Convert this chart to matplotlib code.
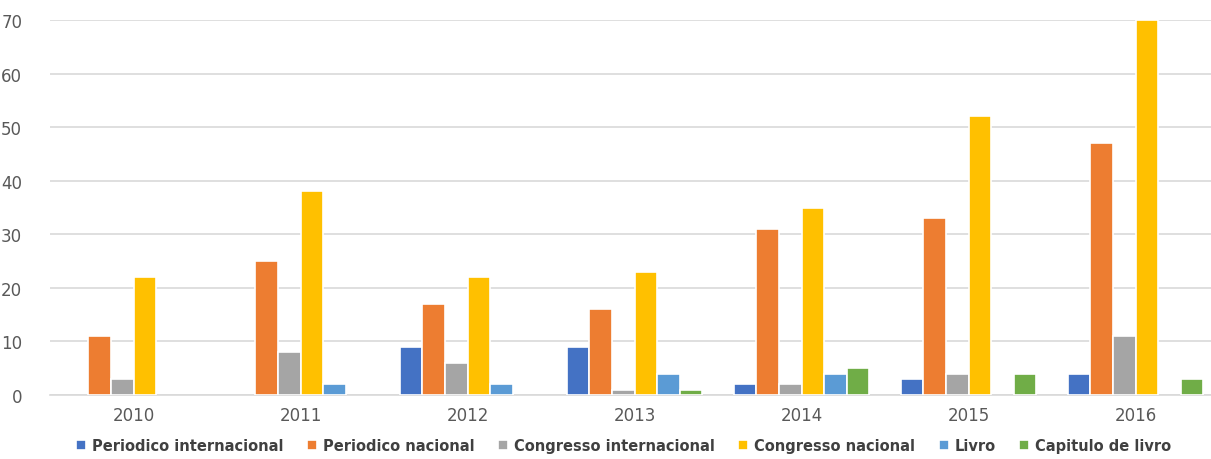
import numpy as np
import matplotlib
matplotlib.use('Agg')
from matplotlib import pyplot as plt

years = ['2010', '2011', '2012', '2013', '2014', '2015', '2016']
series = ['Periodico internacional', 'Periodico nacional', 'Congresso internacional',
          'Congresso nacional', 'Livro', 'Capitulo de livro']
periodico_int = [0, 0, 9, 9, 2, 3, 4]
periodico_nac = [11, 25, 17, 16, 31, 33, 47]
congresso_int = [3, 8, 6, 1, 2, 4, 11]
congresso_nac = [22, 38, 22, 23, 35, 52, 70]
livro = [0, 2, 2, 4, 4, 0, 0]
capitulo = [0, 0, 0, 1, 5, 4, 3]
colors = ['#4472C4', '#ED7D31', '#A5A5A5', '#FFC000', '#5B9BD5', '#70AD47']

def main():
    values = [periodico_int, periodico_nac, congresso_int, congresso_nac, livro, capitulo]

    fig = plt.figure(figsize=(12.11, 4.6), dpi=100)
    ax = fig.add_axes([50 / 1211, 64 / 460, 1169 / 1211, 375 / 460])

    x = np.arange(len(years))
    slot = 0.135
    for i, (vals, name, c) in enumerate(zip(values, series, colors)):
        offset = (i - 2.5) * slot
        vals = np.array(vals, dtype=float)
        # zero bars would still show a white edge, so leave them out
        keep = vals > 0
        ax.bar(x[keep] + offset, vals[keep], width=slot, color=c, edgecolor='white',
               linewidth=1.2, label=name, zorder=3)

    ax.set_xlim(-0.5, len(years) - 0.5)
    ax.set_ylim(0, 70)
    ax.set_yticks(range(0, 71, 10))
    ax.set_xticks(x)
    ax.set_xticklabels(years)
    ax.grid(axis='y', color='#D9D9D9', linewidth=1.2, zorder=0)
    for s in ['top', 'right', 'left']:
        ax.spines[s].set_visible(False)
    ax.spines['bottom'].set_color('#D9D9D9')
    ax.spines['bottom'].set_linewidth(1.2)
    ax.tick_params(axis='both', length=0, colors='#595959', labelsize=12)
    ax.tick_params(axis='y', pad=20)
    ax.tick_params(axis='x', pad=8)

    fig.legend(loc='lower center', bbox_to_anchor=(0.515, -0.015), ncol=6, frameon=False,
               handlelength=0.7, handleheight=0.7, handletextpad=0.4, columnspacing=1.6,
               prop={'size': 10.5, 'weight': 'bold'}, labelcolor='#404040')

    fig.savefig('out.png', dpi=100)

if __name__ == '__main__':
    main()
